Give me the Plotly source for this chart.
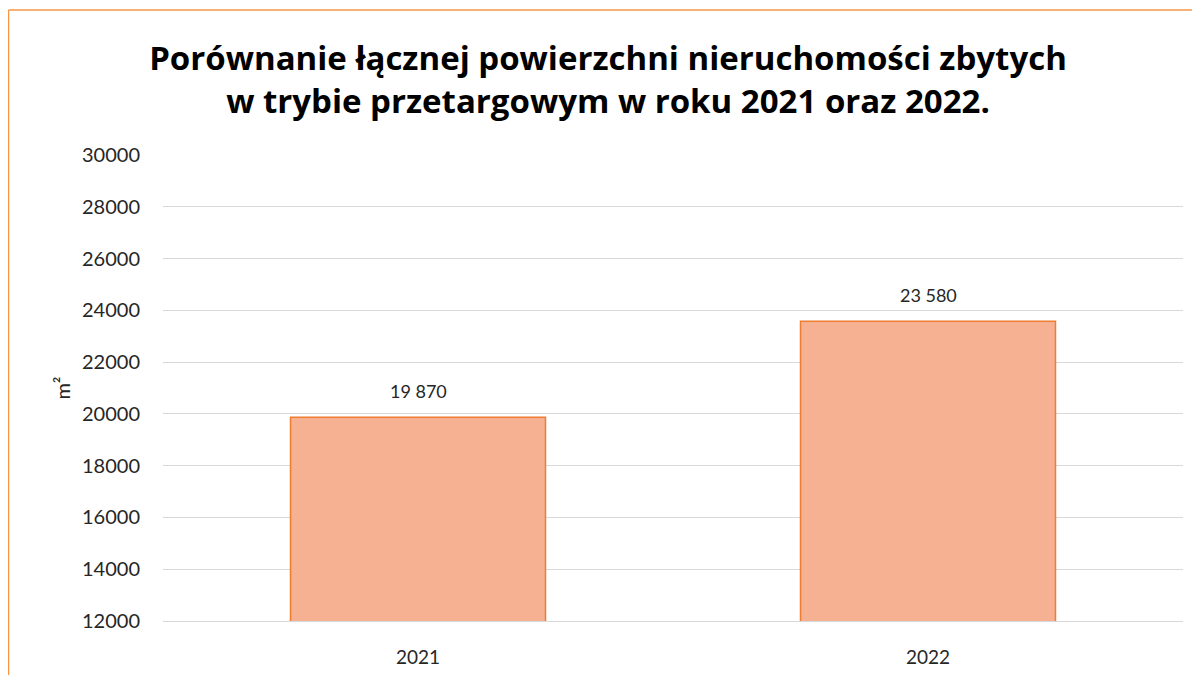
import plotly.graph_objects as go

years = ["2021", "2022"]
area_m2 = [19870, 23580]
title_lines = ["Porównanie łącznej powierzchni nieruchomości zbytych",
               "w trybie przetargowym w roku 2021 oraz 2022."]
y_title = "m²"

# the page body adds an 8px offset; figure coordinates below account for it
W, H = 1200, 675
L, R, T, B = 155, 25, 147, 62
pw, ph = W - L - R, H - T - B

FONT = "Lato, Noto Sans, sans-serif"

fig = go.Figure()
fig.add_trace(go.Bar(
    x=years, y=area_m2,
    width=0.5,
    marker=dict(color="#F6B092", line=dict(color="#ED7D31", width=1.5)),
))

labels = [f"{v:,}".replace(",", " ") for v in area_m2]
for i, (yv, t) in enumerate(zip(area_m2, labels)):
    fig.add_annotation(x=i, y=yv, text=t, showarrow=False,
                       yanchor="bottom", yshift=13,
                       font=dict(family=FONT, size=18, color="#262626"))

def px_x(p):
    return (p - L) / pw

def px_y(p):
    return (H - B - p) / ph

fig.update_layout(
    width=W, height=H,
    margin=dict(l=L, r=R, t=T, b=B),
    paper_bgcolor="white", plot_bgcolor="white",
    showlegend=False,
    title=dict(
        text="<br>".join(title_lines),
        x=px_x(600), xanchor="center", xref="paper",
        y=1 - 62 / H, yanchor="middle", yref="container",
        font=dict(family="Open Sans, sans-serif", size=33, color="#000000", weight="bold"),
    ),
    xaxis=dict(
        type="category", range=[-0.5, 1.5],
        showgrid=False, showline=True, linecolor="#D9D9D9", linewidth=1,
        ticks="", tickfont=dict(family=FONT, size=19, color="#262626"),
        ticklabelstandoff=19,
    ),
    yaxis=dict(
        range=[12000, 30000], dtick=2000, tickformat="d",
        showgrid=True, gridcolor="#D9D9D9", gridwidth=1,
        zeroline=False, showline=False, ticks="",
        tickfont=dict(family=FONT, size=20, color="#262626"),
        ticklabelstandoff=22,
        title=dict(text=y_title, font=dict(family=FONT, size=20, color="#262626"), standoff=6),
    ),
)

# outer chart frame (orange), partially cropped
fig.add_shape(type="line", xref="paper", yref="paper",
              x0=px_x(0.5), x1=px_x(1210), y0=px_y(2), y1=px_y(2),
              line=dict(color="#F79646", width=1.5))
fig.add_shape(type="line", xref="paper", yref="paper",
              x0=px_x(0.5), x1=px_x(0.5), y0=px_y(2), y1=px_y(700),
              line=dict(color="#F79646", width=1.5))

fig.write_html("out.html")
